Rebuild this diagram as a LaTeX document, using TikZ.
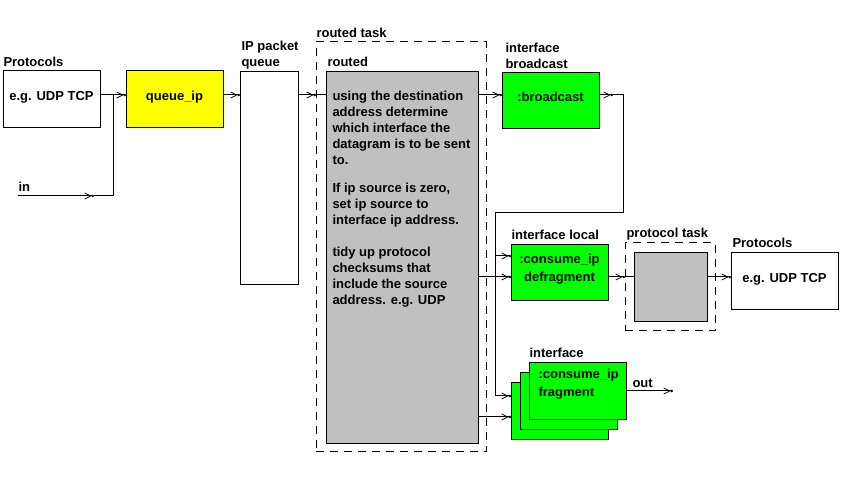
\documentclass[tikz,border=0pt]{standalone}
\usepackage{fontspec}
\setmainfont{Liberation Sans}
\usetikzlibrary{arrows.meta, positioning}
\definecolor{qyellow}{RGB}{255,255,0}
\definecolor{igreen}{RGB}{0,255,0}
\definecolor{tgray}{RGB}{192,192,192}

\begin{document}
\begin{tikzpicture}[x=1pt, y=1pt, line width=1pt, font=\bfseries\fontsize{13}{16}\selectfont,
    box node/.style={rectangle, draw, inner sep=0pt, outer sep=0pt},
    one line/.style={text height=9.5pt, text depth=8pt},
    task node/.style={rectangle, draw, dash pattern=on 8pt off 6pt, inner sep=0pt, outer sep=0pt},
    label node/.style={anchor=base west, inner sep=0pt, align=left},
    text node/.style={anchor=north west, inner sep=0pt, align=left},
    wide lines/.style={font=\bfseries\fontsize{13}{18}\selectfont},
    flow/.style={-{Straight Barb[length=6pt, width=6pt, line width=0.8pt] Circle[length=2.4pt]}}]
\useasboundingbox (0,0) rectangle (849,489);
\node[box node, one line, minimum width=97pt, minimum height=57pt] (prot1) at (51.5,389.5) {e.g. UDP TCP};
\node[box node, one line, fill=qyellow, minimum width=97pt, minimum height=57pt] (qip) at (174.5,389.5) {queue\_ip};
\node[box node, minimum width=58pt, minimum height=213pt] (ipq) at (269,310.5) {};
\node[task node, minimum width=170pt, minimum height=410pt] (rtask) at (401,242) {};
\node[box node, fill=tgray, minimum width=152pt, minimum height=372pt] (routed) at (402,231) {};
\node[box node, one line, fill=igreen, minimum width=97pt, minimum height=56pt] (bcast) at (550.5,388) {:broadcast};
\node[box node, wide lines, fill=igreen, align=center, text depth=11pt, minimum width=97pt, minimum height=56pt] (defrag) at (559.5,216) {:consume\_ip\\defragment};
\node[task node, minimum width=90pt, minimum height=88pt] (ptask) at (670,202) {};
\node[box node, fill=tgray, minimum width=73pt, minimum height=69pt] (pgray) at (670.5,201.5) {};
\node[box node, one line, minimum width=107pt, minimum height=57pt] (prot2) at (784.5,207.5) {e.g. UDP TCP};
\node[box node, fill=igreen, minimum width=97pt, minimum height=57pt] (frag1) at (559.5,77.5) {};
\node[box node, fill=igreen, minimum width=97pt, minimum height=57pt] (frag2) at (568.5,87.5) {};
\node[box node, fill=igreen, minimum width=97pt, minimum height=57pt] (frag3) at (577.5,97.5) {};
\node[text node, wide lines] (fragtxt) at (538,120.5) {:consume\_ip\\fragment};
\node[text node] (rtext) at (332,398.5) {using the destination\\address determine\\which interface the\\datagram is to be sent\\to.\\[12pt]If ip source is zero,\\set ip source to\\interface ip address.\\[16pt]tidy up protocol\\checksums that\\include the source\\address. e.g. UDP};

\node[label node] (prot1lbl) at ([shift={(0,4)}]prot1.north west) {Protocols};
\node[label node] (ipqlbl) at ([shift={(1,5)}]ipq.north west) {IP packet\\queue};
\node[label node] (rtasklbl) at ([shift={(0,4)}]rtask.north west) {routed task};
\node[label node] (routedlbl) at ([shift={(1,5)}]routed.north west) {routed};
\node[label node] (bcastlbl) at ([shift={(3,4)}]bcast.north west) {interface\\broadcast};
\node[label node] (defraglbl) at ([shift={(0,5)}]defrag.north west) {interface local};
\node[label node] (ptasklbl) at ([shift={(1,5)}]ptask.north west) {protocol task};
\node[label node] (prot2lbl) at ([shift={(1,5)}]prot2.north west) {Protocols};
\node[label node] (fraglbl) at ([shift={(0,5)}]frag3.north west) {interface};
\node[label node] (inlbl) at (18,297) {in};
\node[label node] (outlbl) at (632,101) {out};

\coordinate (row1) at (0,394);
\coordinate (row2) at (0,233);
\coordinate (row3) at (0,212);
\coordinate (row4) at (0,93);
\coordinate (row5) at (0,72);
\coordinate (instart) at (18,293);
\coordinate (inend) at (94,293);
\coordinate (injoin) at (113,394);
\coordinate (bstub) at (613,394);
\coordinate (bturn) at (623,276);
\coordinate (ifbus) at (495,276);
\coordinate (outend) at (673,98);

\draw[flow] (prot1.east |- row1) -- (qip.west |- row1);
\draw[flow] (instart) -- (inend);
\draw (inend) -| (injoin);
\draw[flow] (qip.east |- row1) -- (ipq.west |- row1);
\draw[flow] (ipq.east |- row1) -- (rtask.west |- row1);
\draw (rtask.west |- row1) -- (routed.west |- row1);
\draw[flow] (routed.east |- row1) -- (bcast.west |- row1);
\draw[flow] (bcast.east |- row1) -- (bstub);
\draw[flow] (bstub) -| (bturn) -- (ifbus) |- (frag1.west |- row4);
\draw[flow] (ifbus |- row2) -- (defrag.west |- row2);
\draw[flow] (routed.east |- row3) -- (defrag.west |- row3);
\draw[flow] (defrag.east |- row3) -- (ptask.west |- row3);
\draw (ptask.west |- row3) -- (pgray.west |- row3);
\draw[flow] (pgray.east |- row3) -- (prot2.west |- row3);
\draw[flow] (routed.east |- row5) -- (frag1.west |- row5);
\draw[flow] (frag3.east |- outend) -- (outend);
\end{tikzpicture}
\end{document}
